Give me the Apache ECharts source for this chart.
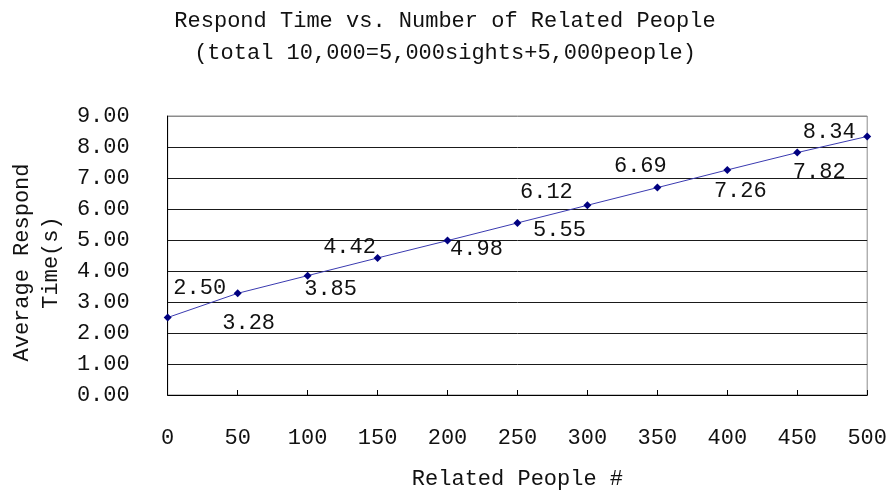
<!DOCTYPE html>
<html>
<head>
<meta charset="utf-8">
<script src="https://cdn.jsdelivr.net/npm/echarts@6/dist/echarts.min.js"></script>
<style>html,body{margin:0;padding:0;background:#fff;}#c{width:890px;height:495px;}</style>
</head>
<body>
<div id="c"></div>
<script>
// Data
const categories = [0, 50, 100, 150, 200, 250, 300, 350, 400, 450, 500];
const respondTime = [2.50, 3.28, 3.85, 4.42, 4.98, 5.55, 6.12, 6.69, 7.26, 7.82, 8.34];
const yTicks = [0, 1, 2, 3, 4, 5, 6, 7, 8, 9];
const titleText = 'Respond Time vs. Number of Related People\n(total 10,000=5,000sights+5,000people)';

// label placement (style, not data)
const labelOffsets = [[32,-29],[11,30],[23,14],[-28,-11],[29,9],[42,7],[-41,-13],[-17,-21],[13,21],[22,20],[-38,-4]];

const FONT = '"Liberation Mono", "DejaVu Sans Mono", monospace';
const splitColors = yTicks.map((t, i) => i === yTicks.length - 1 ? '#8c8c8c' : '#1a1a1a');

const chart = echarts.init(document.getElementById('c'));
chart.setOption({
  backgroundColor: '#fff',
  animation: false,
  title: {
    text: titleText,
    left: 'center',
    top: 0,
    textStyle: { fontFamily: FONT, fontSize: 22, fontWeight: 'normal', color: '#111', lineHeight: 32 }
  },
  grid: { left: 167, right: 22, top: 116, bottom: 96, show: true, borderColor: '#8c8c8c', borderWidth: 1 },
  xAxis: {
    type: 'value',
    min: 0, max: 500, interval: 50,
    name: 'Related People #',
    nameLocation: 'middle',
    nameGap: 73,
    nameTextStyle: { fontFamily: FONT, fontSize: 22, color: '#111' },
    axisLine: { show: true, lineStyle: { color: '#000', width: 1 } },
    axisTick: { show: true, inside: true, length: 5, lineStyle: { color: '#000' } },
    axisLabel: { margin: 32, fontFamily: FONT, fontSize: 22, color: '#111' },
    splitLine: { show: false }
  },
  yAxis: {
    type: 'value',
    min: 0, max: 9, interval: 1,
    name: 'Average Respond\nTime(s)',
    nameLocation: 'middle',
    nameRotate: 90,
    nameGap: 101,
    nameTextStyle: { fontFamily: FONT, fontSize: 22, color: '#111', lineHeight: 29, align: 'center', padding: [0, 14, 0, 0] },
    axisLine: { show: true, lineStyle: { color: '#000', width: 1 } },
    axisTick: { show: false },
    axisLabel: { margin: 38, fontFamily: FONT, fontSize: 22, color: '#111', formatter: v => v.toFixed(2) },
    splitLine: { show: true, lineStyle: { color: splitColors, width: 1 } }
  },
  series: [{
    type: 'line',
    data: categories.map((c, i) => ({
      value: [c, respondTime[i]],
      label: { offset: labelOffsets[i] }
    })),
    symbol: 'diamond',
    symbolSize: 8,
    lineStyle: { color: '#3a3ab0', width: 1 },
    itemStyle: { color: '#000080' },
    label: {
      show: true,
      position: 'inside',
      fontFamily: FONT,
      fontSize: 22,
      color: '#111',
      formatter: p => p.value[1].toFixed(2)
    },
    z: 5
  }]
});
</script>
</body>
</html>
